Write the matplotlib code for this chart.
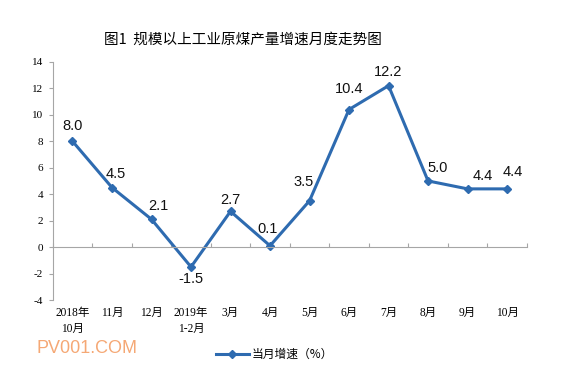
import matplotlib
matplotlib.use("Agg")
import matplotlib.pyplot as plt

plt.rcParams['font.family'] = ['Liberation Serif', 'Noto Sans CJK SC']
plt.rcParams['axes.unicode_minus'] = False

# data
months = ["2018年\n10月", "11月", "12月", "2019年\n1-2月", "3月", "4月",
          "5月", "6月", "7月", "8月", "9月", "10月"]
growth = [8.0, 4.5, 2.1, -1.5, 2.7, 0.1, 3.5, 10.4, 12.2, 5.0, 4.4, 4.4]
label_offsets = [(0, 11), (3, 10), (5, 9.5), (0, -9), (0, 8.5), (-2, 12),
                 (-4, 13.5), (0, 15), (0, 10), (7, 9.5), (11, 9.5), (4, 12)]

line_color = "#2e6bb0"
grey = "#a6a6a6"

fig = plt.figure(figsize=(5.86, 3.75), dpi=100)
ax = fig.add_axes([0.090, 0.200, 0.809, 0.635])

x = list(range(len(months)))
line, = ax.plot(x, growth, color=line_color, lw=2.2, marker="D", ms=4.5,
                mec=line_color, mfc=line_color, label="当月增速（%）")

for xi, v, (dx, dy) in zip(x, growth, label_offsets):
    ax.annotate(f"{v:.1f}", (xi, v), xytext=(dx, dy), textcoords="offset points",
                ha="center", va="center", fontsize=10.5,
                family=['Liberation Sans', 'Noto Sans CJK SC'], color="#111111")

ax.set_xlim(-0.5, len(months) - 0.5)
ax.set_ylim(-4, 14)
ax.set_yticks(range(-4, 15, 2))
ax.tick_params(axis="y", direction="out", length=3, color=grey, labelsize=8,
               pad=4)

for s in ["top", "right"]:
    ax.spines[s].set_visible(False)
ax.spines["left"].set_color(grey)
ax.spines["bottom"].set_position(("data", 0))
ax.spines["bottom"].set_color(grey)
ax.set_xticks([i - 0.5 for i in range(len(months) + 1)])
ax.tick_params(axis="x", direction="in", length=3, color=grey, labelbottom=False)

sec = ax.secondary_xaxis(0.0)
sec.set_xticks(x)
sec.set_xticklabels(months, fontsize=8.3, linespacing=1.45)
sec.tick_params(length=0, pad=5)
sec.spines["bottom"].set_visible(False)

fig.text(0.415, 0.893, "图1  规模以上工业原煤产量增速月度走势图",
         ha="center", va="center", fontsize=10.5,
         family=['Noto Sans CJK SC', 'DejaVu Sans'])

fig.legend(handles=[line], loc="center", bbox_to_anchor=(0.468, 0.055),
           frameon=False, handlelength=2.8, handletextpad=0.2,
           prop={'family': ['Noto Sans CJK SC', 'DejaVu Sans'], 'size': 8.5})

fig.text(0.063, 0.070, "PV001.COM", ha="left", va="center", fontsize=13,
         color="#f5a875", family=['Liberation Sans', 'DejaVu Sans'])

fig.savefig("out.png", dpi=100)
